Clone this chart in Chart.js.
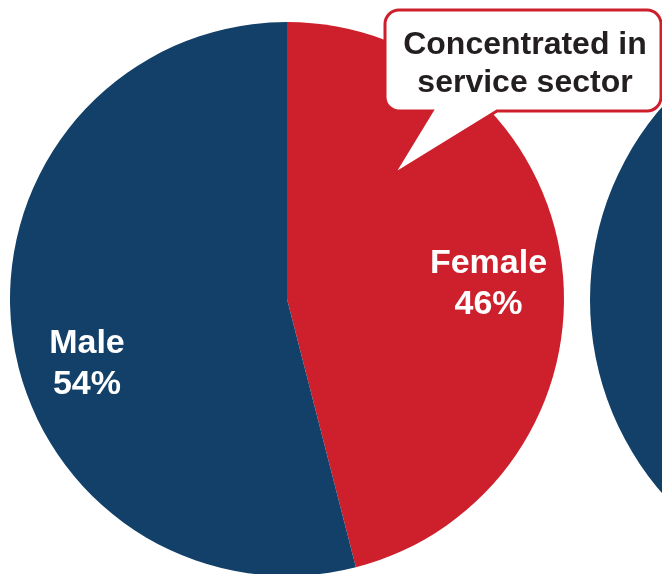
<!DOCTYPE html>
<html>
<head>
<meta charset="utf-8">
<script src="https://cdn.jsdelivr.net/npm/chart.js@4"></script>
<style>
  html, body { margin: 0; padding: 0; background: #fff; overflow: hidden; }
  body { width: 662px; height: 574px; position: relative; }
  #right-wrap { position: absolute; left: 590px; top: 5px; width: 590px; height: 590px; }
  #main-wrap { position: absolute; left: 0; top: 0; width: 662px; height: 576px; }
</style>
</head>
<body>
<div id="right-wrap"><canvas id="right-pie"></canvas></div>
<div id="main-wrap"><canvas id="main-pie"></canvas></div>
<script>
// data
const categories = ['Female', 'Male'];
const shares = [46, 54];
const sliceColors = ['#cd202c', '#134068'];
const calloutLines = ['Concentrated in', 'service sector'];

// the next pie only shows its left edge
const rightPieValues = [100];
const rightPieColors = ['#134068'];

const FONT = '"Liberation Sans", Arial, sans-serif';

// where each slice label sits: degrees from 3 o'clock, fraction of radius
const labelPlace = [
    { angle: -4.7, dist: 0.73 },
    { angle: 162.3, dist: 0.758 }
];

const sliceLabels = {
    id: 'sliceLabels',
    afterDatasetsDraw(chart) {
        const ctx = chart.ctx;
        const arcs = chart.getDatasetMeta(0).data;
        ctx.save();
        ctx.fillStyle = '#fff';
        ctx.font = 'bold 34px ' + FONT;
        ctx.textAlign = 'center';
        ctx.textBaseline = 'alphabetic';
        arcs.forEach((arc, i) => {
            const p = labelPlace[i];
            const a = p.angle * Math.PI / 180;
            const x = arc.x + Math.cos(a) * arc.outerRadius * p.dist;
            const y = arc.y + Math.sin(a) * arc.outerRadius * p.dist;
            ctx.fillText(categories[i], x, y - 9.5);
            ctx.fillText(shares[i] + '%', x, y + 31.5);
        });
        ctx.restore();
    }
};

// speech bubble in the top right corner
const callout = {
    id: 'callout',
    afterDraw(chart) {
        const ctx = chart.ctx;
        const l = 385, t = 10, r = 661, b = 111, rad = 14;
        ctx.save();
        ctx.beginPath();
        ctx.moveTo(l + rad, t);
        ctx.lineTo(r - rad, t);
        ctx.arcTo(r, t, r, t + rad, rad);
        ctx.lineTo(r, b - rad);
        ctx.arcTo(r, b, r - rad, b, rad);
        ctx.lineTo(497, b);
        ctx.lineTo(393, 175);
        ctx.lineTo(432, b);
        ctx.lineTo(l + rad, b);
        ctx.arcTo(l, b, l, b - rad, rad);
        ctx.lineTo(l, t + rad);
        ctx.arcTo(l, t, l + rad, t, rad);
        ctx.closePath();
        ctx.fillStyle = '#fff';
        ctx.fill();
        ctx.lineWidth = 3;
        ctx.strokeStyle = '#cd202c';
        ctx.stroke();

        ctx.fillStyle = '#231f20';
        ctx.font = 'bold 32px ' + FONT;
        ctx.textAlign = 'center';
        ctx.textBaseline = 'alphabetic';
        ctx.fillText(calloutLines[0], 525, 54);
        ctx.fillText(calloutLines[1], 525, 92);
        ctx.restore();
    }
};

new Chart(document.getElementById('right-pie'), {
    type: 'pie',
    data: {
        labels: ['Next'],
        datasets: [{ data: rightPieValues, backgroundColor: rightPieColors, borderWidth: 0 }]
    },
    options: {
        responsive: true,
        maintainAspectRatio: false,
        animation: false,
        layout: { padding: 0 },
        plugins: { legend: { display: false }, tooltip: { enabled: false } }
    }
});

new Chart(document.getElementById('main-pie'), {
    type: 'pie',
    data: {
        labels: categories,
        datasets: [{ data: shares, backgroundColor: sliceColors, borderWidth: 0 }]
    },
    options: {
        responsive: true,
        maintainAspectRatio: false,
        animation: false,
        layout: { padding: { left: 10, top: 22, right: 98, bottom: 0 } },
        plugins: { legend: { display: false }, tooltip: { enabled: false } }
    },
    plugins: [sliceLabels, callout]
});
</script>
</body>
</html>
